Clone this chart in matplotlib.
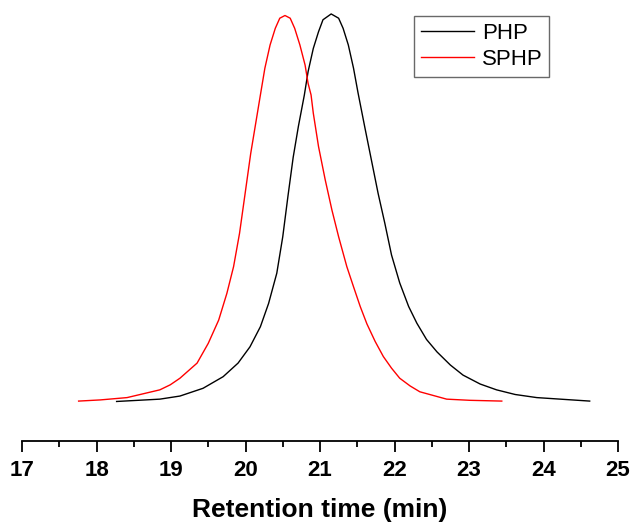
import matplotlib
matplotlib.use('Agg')
import matplotlib.pyplot as plt
from matplotlib.ticker import MultipleLocator

plt.rcParams['font.family'] = ['Liberation Sans', 'DejaVu Sans']

# GPC traces (retention time in min, normalised signal)
php_time = [18.27, 18.85, 19.12, 19.43, 19.70, 19.90, 20.06, 20.20, 20.31,
            20.42, 20.50, 20.57, 20.64, 20.71, 20.79, 20.84, 20.91, 20.98,
            21.04, 21.15, 21.25, 21.31, 21.38, 21.45, 21.51, 21.60, 21.69,
            21.78, 21.87, 21.96, 22.07, 22.19, 22.30, 22.43, 22.57, 22.75,
            22.92, 23.15, 23.37, 23.62, 23.91, 24.62]
php_signal = [0.000, 0.006, 0.014, 0.034, 0.064, 0.099, 0.141, 0.193, 0.253,
              0.331, 0.425, 0.530, 0.630, 0.710, 0.791, 0.851, 0.911, 0.954,
              0.985, 1.000, 0.989, 0.963, 0.920, 0.860, 0.797, 0.709, 0.623,
              0.537, 0.460, 0.378, 0.306, 0.245, 0.202, 0.160, 0.128, 0.094,
              0.068, 0.045, 0.030, 0.018, 0.010, 0.001]

sphp_time = [17.76, 18.05, 18.41, 18.85, 18.99, 19.12, 19.35, 19.50, 19.64,
             19.75, 19.84, 19.92, 19.99, 20.07, 20.20, 20.26, 20.33, 20.40,
             20.46, 20.53, 20.60, 20.66, 20.73, 20.80, 20.84, 20.88, 20.91,
             20.98, 21.07, 21.16, 21.25, 21.36, 21.45, 21.54, 21.63, 21.74,
             21.85, 21.96, 22.07, 22.21, 22.34, 22.70, 23.01, 23.44]
sphp_signal = [0.001, 0.004, 0.010, 0.030, 0.043, 0.060, 0.099, 0.150, 0.210,
               0.279, 0.348, 0.434, 0.530, 0.640, 0.791, 0.860, 0.920, 0.963,
               0.989, 0.996, 0.989, 0.963, 0.920, 0.868, 0.821, 0.791, 0.744,
               0.658, 0.572, 0.494, 0.425, 0.348, 0.296, 0.245, 0.200, 0.155,
               0.116, 0.086, 0.060, 0.040, 0.025, 0.006, 0.003, 0.001]

x_ticks = [17, 18, 19, 20, 21, 22, 23, 24, 25]

fig = plt.figure(figsize=(6.33, 5.23), dpi=100)
ax = fig.add_axes([22 / 633, 82 / 523, 596 / 633, 441 / 523])

ax.plot(php_time, php_signal, color='black', lw=1.0, label='PHP')
ax.plot(sphp_time, sphp_signal, color='red', lw=1.0, label='SPHP')

ax.set_xlim(17, 25)
ax.set_ylim(-0.102, 1.036)

for side in ['left', 'right', 'top']:
    ax.spines[side].set_visible(False)
ax.spines['bottom'].set_linewidth(1.3)
ax.set_yticks([])

ax.set_xticks(x_ticks)
ax.xaxis.set_minor_locator(MultipleLocator(0.5))
ax.tick_params(axis='x', which='major', length=8, width=1.3, pad=6,
               labelsize=16)
ax.tick_params(axis='x', which='minor', length=4, width=1.3)
for lbl in ax.get_xticklabels():
    lbl.set_fontweight('bold')

ax.set_xlabel('Retention time (min)', fontsize=19, fontweight='bold',
              labelpad=12)

leg = ax.legend(loc='upper left', bbox_to_anchor=(414 / 633, 1 - 16 / 523),
                bbox_transform=fig.transFigure, borderaxespad=0,
                fontsize=16, frameon=True, fancybox=False, borderpad=0.3,
                labelspacing=0.25, handlelength=2.4, handletextpad=0.35)
leg.get_frame().set_edgecolor('#444444')
leg.get_frame().set_linewidth(1.0)

fig.savefig('out.png', dpi=100)
